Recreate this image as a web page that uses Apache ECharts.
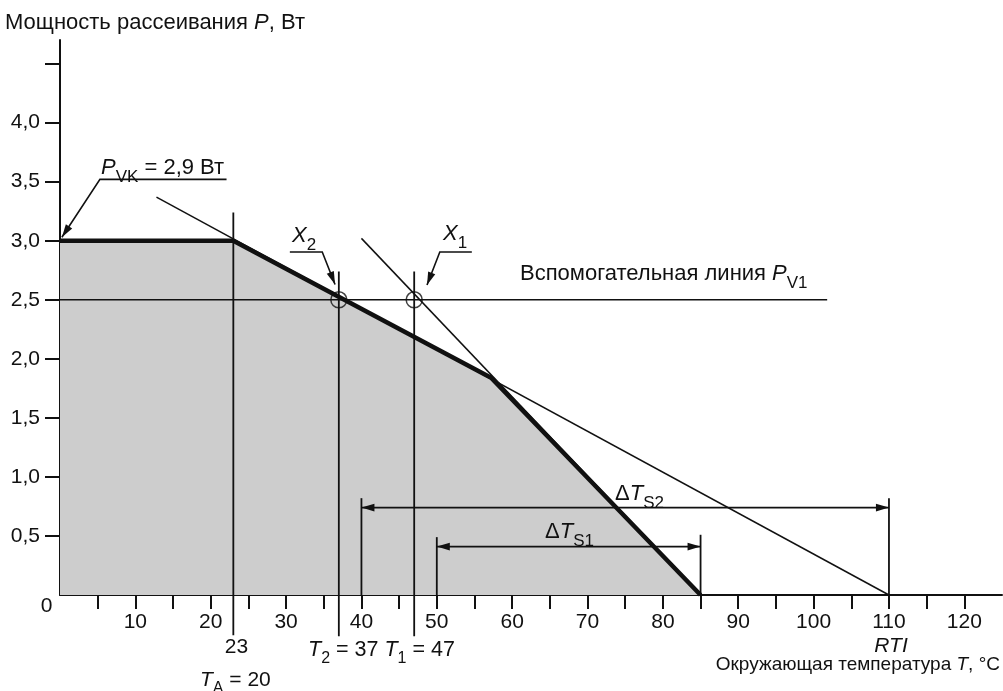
<!DOCTYPE html>
<html><head><meta charset="utf-8">
<script src="https://cdn.jsdelivr.net/npm/echarts@6/dist/echarts.min.js"></script>
<style>html,body{margin:0;padding:0;background:#fff}#c{width:1003px;height:691px}</style>
</head><body><div id="c"></div>
<script>
// ---- axis ticks / labels ----
const xTickValues = [5,10,15,20,25,30,35,40,45,50,55,60,65,70,75,80,85,90,95,100,105,110,115,120];
const xLabelValues = [10,20,30,40,50,60,70,80,90,100,110,120];
const yTickValues = [0.5,1.0,1.5,2.0,2.5,3.0,3.5,4.0,4.5];
const yLabelValues = [0.5,1.0,1.5,2.0,2.5,3.0,3.5,4.0];

// ---- curves (T, P) ----
const boundaryCurve = [[0,3.0],[23,3.0],[57.2,1.84],[85,0]];
const tangentLine1 = [[12.8,3.37],[110,0]];
const tangentLine2 = [[40,3.02],[85,0]];
const helperLine = [[0,2.5],[101.8,2.5]];
const intersections = [[37,2.5],[47,2.5]];

// vertical marker lines: [T, P top, P bottom]
const verticals = [[23,3.24,-0.34],[37,2.74,-0.35],[47,2.74,-0.35],[40,0.82,0],[110,0.82,0],[50,0.49,0],[85,0.51,0]];
// dimension arrows: [T from, T to, P]
const dimArrows = [[40,110,0.74],[50,85,0.41]];
// leader lines with arrow at last point
const leaderPvk = [[22.1,3.52],[5.3,3.52],[0.25,3.03]];
const leaderX2 = [[30.5,2.905],[34.8,2.905],[36.5,2.63]];
const leaderX1 = [[54.65,2.905],[50.4,2.905],[48.7,2.625]];

const INK = '#111';
const FONT = 'Liberation Sans, Arial, sans-serif';
const FS = 21;   // tick labels
const LS = 22;   // annotation labels

const arrowPaths = [
  {pts: [[dimArrows[0][0],dimArrows[0][2]],[dimArrows[0][1],dimArrows[0][2]]], start:true, end:true},
  {pts: [[dimArrows[1][0],dimArrows[1][2]],[dimArrows[1][1],dimArrows[1][2]]], start:true, end:true},
  {pts: leaderPvk, start:false, end:true},
  {pts: leaderX2, start:false, end:true},
  {pts: leaderX1, start:false, end:true}
];

function head(tip, from, len, half) {
  const dx = tip[0]-from[0], dy = tip[1]-from[1];
  const d = Math.hypot(dx, dy) || 1;
  const ux = dx/d, uy = dy/d;
  const bx = tip[0]-ux*len, by = tip[1]-uy*len;
  return {type:'polygon', shape:{points:[tip,[bx-uy*half,by+ux*half],[bx+uy*half,by-ux*half]]}, style:{fill:INK}};
}

function makeRich(fs) {
  return {
    i: {fontStyle:'italic', fontSize:fs, fontFamily:FONT, fill:INK},
    sub: {fontSize:Math.round(fs*0.76), fontFamily:FONT, padding:[Math.round(fs*0.8),0,0,0], fill:INK},
    n: {fontSize:fs, fontFamily:FONT, fill:INK}
  };
}
function txt(text, x, y, align, fs) {
  fs = fs || LS;
  return {type:'text', x:x, y:y, z:100, style:{text:text, rich:makeRich(fs), fontSize:fs, fontFamily:FONT, fill:INK, align:align||'left', verticalAlign:'middle'}};
}

const series = [];
series.push({type:'line', data:boundaryCurve, symbol:'none', z:3,
  lineStyle:{color:INK, width:4.5}, areaStyle:{color:'#cdcdcd', opacity:1, origin:0}});
series.push({type:'line', data:tangentLine1, symbol:'none', z:4, lineStyle:{color:INK, width:1.5}});
series.push({type:'line', data:tangentLine2, symbol:'none', z:4, lineStyle:{color:INK, width:1.5}});
series.push({type:'line', data:helperLine, symbol:'none', z:4, lineStyle:{color:INK, width:1.5}});
verticals.forEach(v => series.push({type:'line', data:[[v[0],v[1]],[v[0],v[2]]], symbol:'none', clip:false, z:4,
  lineStyle:{color:INK, width:1.8}}));
series.push({type:'scatter', data:intersections, symbol:'circle', symbolSize:16, z:6,
  itemStyle:{color:'rgba(0,0,0,0)', borderColor:INK, borderWidth:1.5}});
series.push({type:'custom', z:7, clip:false,
  data: arrowPaths.map((p,i)=>[p.pts[0][0], p.pts[0][1], i]),
  encode:{x:0, y:1},
  renderItem: function(params, api){
    const p = arrowPaths[api.value(2)];
    const pts = p.pts.map(q => api.coord(q));
    const children = [{type:'polyline', shape:{points:pts}, style:{stroke:INK, lineWidth:1.6, fill:null}}];
    if (p.end) children.push(head(pts[pts.length-1], pts[pts.length-2], 13, 3.8));
    if (p.start) children.push(head(pts[0], pts[1], 13, 3.8));
    return {type:'group', children:children};
  }});

const chart = echarts.init(document.getElementById('c'), null, {renderer:'canvas'});
chart.setOption({
  backgroundColor:'#fff',
  animation:false,
  grid:{left:60, right:1, top:40, bottom:96, containLabel:false},
  xAxis:{type:'value', min:0, max:125,
    axisLine:{show:true, onZero:false, lineStyle:{color:INK, width:2}},
    axisTick:{show:true, customValues:xTickValues, length:14, lineStyle:{color:INK, width:2}},
    axisLabel:{customValues:xLabelValues, margin:17, fontSize:FS, fontFamily:FONT, color:INK},
    splitLine:{show:false}},
  yAxis:{type:'value', min:0, max:4.7,
    axisLine:{show:true, onZero:false, lineStyle:{color:INK, width:2}},
    axisTick:{show:true, customValues:yTickValues, length:15, lineStyle:{color:INK, width:2}},
    axisLabel:{customValues:yLabelValues, margin:20, fontSize:FS, fontFamily:FONT, color:INK,
      formatter: v => v.toFixed(1).replace('.', ',')},
    splitLine:{show:false}},
  series: series,
  graphic: [
    txt('{n|Мощность рассеивания }{i|P}{n|, Вт}', 5, 23, 'left', 22),
    txt('0', 46.5, 606, 'center', FS),
    txt('{i|P}{sub|VK}{n| = 2,9 Вт}', 101, 168),
    txt('{i|X}{sub|2}', 292, 236),
    txt('{i|X}{sub|1}', 443, 234),
    txt('{n|Вспомогательная линия }{i|P}{sub|V1}', 520, 274),
    txt('{n|Δ}{i|T}{sub|S2}', 615, 494),
    txt('{n|Δ}{i|T}{sub|S1}', 545, 532),
    txt('23', 236.5, 647.5, 'center', FS),
    txt('{i|T}{sub|A}{n| = 20}', 200, 680, 'left', FS),
    txt('{i|T}{sub|2}{n| = 37 }{i|T}{sub|1}{n| = 47}', 308, 650, 'left', 21.5),
    txt('{i|RTI}', 891, 646.5, 'center', FS),
    txt('{n|Окружающая температура }{i|T}{n|, °C}', 1000, 665, 'right', 19)
  ]
});
</script></body></html>
